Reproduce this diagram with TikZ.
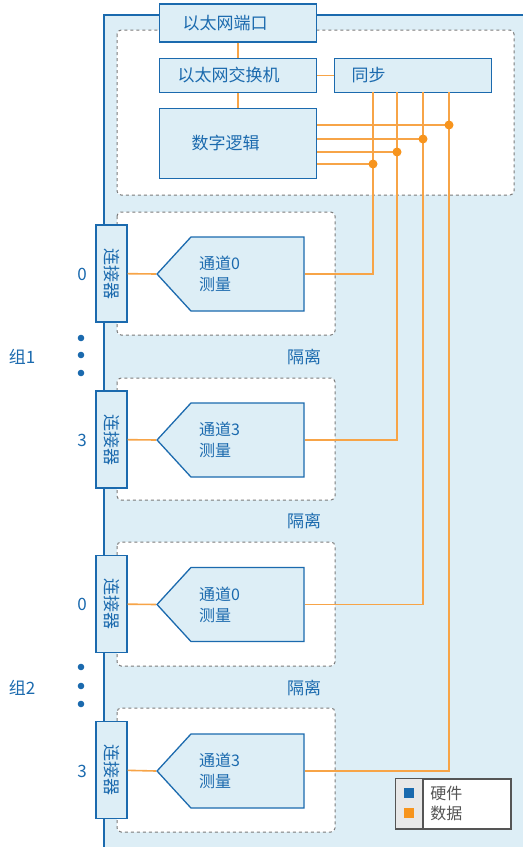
\documentclass[tikz,border=0pt]{standalone}
\usepackage{fontspec}
\setmainfont{Noto Sans CJK SC}
\usetikzlibrary{positioning, shapes.symbols}
\definecolor{hwblue}{HTML}{1B6AAE}
\definecolor{panelblue}{HTML}{DDEEF6}
\definecolor{dataorange}{HTML}{F7A447}
\definecolor{dotorange}{HTML}{F7941D}
\definecolor{isogray}{HTML}{7A7A7A}
\definecolor{keygray}{HTML}{555555}

\begin{document}
\begin{tikzpicture}[x=1pt, y=-1pt,
  unit/.style={draw=hwblue, fill=panelblue, line width=1.3pt, text=hwblue, inner sep=0pt, font=\fontsize{17}{20}\selectfont},
  chan/.style={unit, shape=signal, signal to=west, signal pointer angle=95, minimum width=147pt, minimum height=74pt, text width=97pt, align=left, font=\fontsize{16}{21}\selectfont},
  conn/.style={unit, minimum width=31pt, minimum height=97pt},
  iso/.style={draw=isogray, dashed, line width=1pt, rounded corners=4pt, fill=white},
  data/.style={draw=dataorange, line width=1.6pt},
  joint/.style={fill=dotorange},
  lbl/.style={text=hwblue, font=\fontsize{17}{20}\selectfont},
  key/.style={minimum size=10pt, inner sep=0pt}
]
  \useasboundingbox (0,0) rectangle (523,847);

  % board panel
  \fill[panelblue] (104,15) rectangle (523,847);
  \draw[hwblue, line width=1.5pt] (104,847) |- (523,15);

  % isolation areas
  \draw[iso] (117,30) rectangle (514,195);
  \draw[iso] (117,212) rectangle (335,335);
  \draw[iso] (117,378) rectangle (335,500);
  \draw[iso] (117,542) rectangle (335,666);
  \draw[iso] (117,708) rectangle (335,832);

  % top blocks
  \node[unit, minimum width=157pt, minimum height=38pt, text width=111pt, align=left] (port) at (238,23) {以太网端口};
  \node[unit, minimum width=157pt, minimum height=34pt, text width=121pt, align=left] (switch) at (238,75.5) {以太网交换机};
  \node[unit, minimum width=157pt, minimum height=70pt, text width=93pt, align=left] (logic) at (238,143.5) {数字逻辑};
  \node[unit, minimum width=157pt, minimum height=34pt, text width=123pt, align=left] (sync) at (413,75.5) {同步};

  \draw[data] (port) -- (switch);
  \draw[data] (switch) -- (logic);
  \draw[data] (switch) -- (sync);

  \coordinate (v1) at (373,92);
  \coordinate (v2) at (397,92);
  \coordinate (v3) at (423,92);
  \coordinate (v4) at (449,92);
  \coordinate (j1) at (373,164);
  \coordinate (j2) at (397,152);
  \coordinate (j3) at (423,139);
  \coordinate (j4) at (449,125);

  % group 1
  \node[conn] (k1) at (111.5,273.5) {\rotatebox{-90}{连接器}};
  \node[chan] (g1a) at (247.5,274) {通道0\\测量};
  \node[lbl] (n1) at (82,274) {0};
  \node[conn] (k2) at (111.5,439.5) {\rotatebox{-90}{连接器}};
  \node[chan] (g1b) at (247.5,440) {通道3\\测量};
  \node[lbl] (n2) at (82,440) {3};
  \node[lbl] (grp1) at (22,357) {组1};
  \node[lbl] (iso1) at (304,357) {隔离};
  \node[lbl] (iso2) at (304,521) {隔离};

  % group 2
  \node[conn] (k3) at (111.5,604) {\rotatebox{-90}{连接器}};
  \node[chan] (g2a) at (247.5,604.5) {通道0\\测量};
  \node[lbl] (n3) at (82,604.5) {0};
  \node[conn] (k4) at (111.5,770) {\rotatebox{-90}{连接器}};
  \node[chan] (g2b) at (247.5,771) {通道3\\测量};
  \node[lbl] (n4) at (82,771) {3};
  \node[lbl] (grp2) at (22,688) {组2};
  \node[lbl] (iso3) at (304,688) {隔离};

  \fill[hwblue] (81,338) circle[radius=3.3pt] (81,355) circle[radius=3.3pt] (81,373) circle[radius=3.3pt];
  \fill[hwblue] (81,667) circle[radius=3.3pt] (81,686) circle[radius=3.3pt] (81,704) circle[radius=3.3pt];

  % data paths
  \draw[data] (k1) -- (g1a.west);
  \draw[data] (k2) -- (g1b.west);
  \draw[data] (k3) -- (g2a.west);
  \draw[data] (k4) -- (g2b.west);
  \draw[data] (v1) |- (g1a.east);
  \draw[data] (v2) |- (g1b.east);
  \draw[data] (v3) |- (g2a.east);
  \draw[data] (v4) |- (g2b.east);
  \draw[data] (logic.east |- j1) -- (j1);
  \draw[data] (logic.east |- j2) -- (j2);
  \draw[data] (logic.east |- j3) -- (j3);
  \draw[data] (logic.east |- j4) -- (j4);
  \fill[joint] (j1) circle[radius=4.5pt] (j2) circle[radius=4.5pt] (j3) circle[radius=4.5pt] (j4) circle[radius=4.5pt];

  % legend
  \node[draw=keygray, fill=white, line width=1.2pt, minimum width=115pt, minimum height=50pt, inner sep=0pt] (legend) at (453.5,804) {};
  \coordinate (lsplit) at (423,829);
  \filldraw[fill=gray!18, draw=keygray, line width=1.2pt] (legend.north west) rectangle (lsplit);
  \node[key, fill=hwblue] (hwkey) at (409,793) {};
  \node[key, fill=dotorange] (datakey) at (409,813) {};
  \node[right=16pt of hwkey, inner sep=0pt, text=keygray, font=\fontsize{16}{19}\selectfont] (hwtext) {硬件};
  \node[right=16pt of datakey, inner sep=0pt, text=keygray, font=\fontsize{16}{19}\selectfont] (datatext) {数据};
\end{tikzpicture}
\end{document}
